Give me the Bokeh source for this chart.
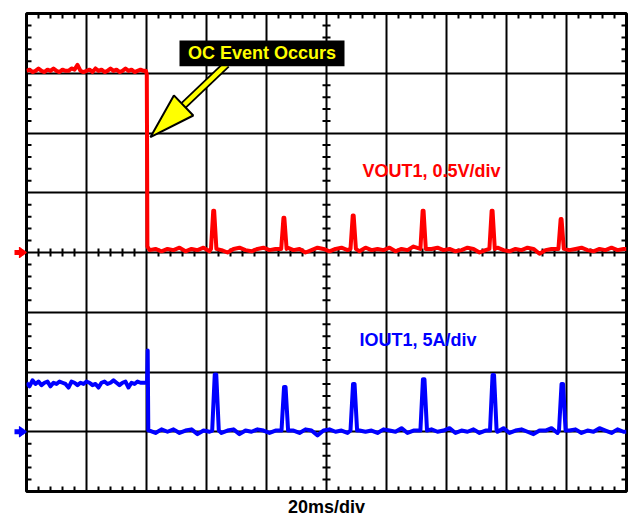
from bokeh.plotting import figure
from bokeh.models import (Range1d, FixedTicker, Grid, BoxAnnotation, Label, LinearAxis, Arrow,
                          NormalHead)
from bokeh.embed import file_html
from bokeh.resources import INLINE
import math

# ---------------- data (read from the scope capture) ----------------
# time base: 20 ms/div, 10 divisions -> 0..200 ms
x_major_ticks = [0, 20, 40, 60, 80, 100, 120, 140, 160, 180, 200]
y_major_ticks = [0, 1, 2, 3, 4, 5, 6, 7, 8]

# VOUT1 (V), 0.5 V/div; before the event, sampled every 1 ms from 0 ms
red_high = [1.52, 1.53, 1.51, 1.52, 1.54, 1.52, 1.51, 1.53, 1.52, 1.54,
            1.52, 1.51, 1.53, 1.52, 1.52, 1.54, 1.53, 1.57, 1.52, 1.51,
            1.52, 1.53, 1.51, 1.54, 1.52, 1.53, 1.51, 1.52, 1.54, 1.52,
            1.53, 1.51, 1.52, 1.54, 1.52, 1.53, 1.51, 1.52, 1.53, 1.52]
red_drop_t = [39.8, 40.1, 40.3]
red_drop_v = [1.52, 1.49, 0.05]
# after the event, sampled every 2 ms from 41 ms
red_low = [0.02, 0.03, 0.01, 0.03, 0.02, 0.04, 0.01, 0.03, 0.02, 0.04,
           0.01, 0.03, 0.02, 0.00, 0.03, 0.04, 0.02, 0.01, 0.03, 0.04,
           0.02, 0.03, 0.01, 0.04, 0.02, 0.03, 0.00, 0.02, 0.04, 0.03,
           0.01, 0.03, 0.04, 0.02, 0.03, 0.01, 0.04, 0.02, 0.03, 0.02,
           0.04, 0.01, 0.03, 0.02, 0.05, 0.02, 0.01, 0.03, 0.04, 0.02,
           0.03, 0.01, 0.02, 0.04, 0.03, 0.00, 0.02, 0.03, 0.04, 0.02,
           0.01, 0.03, 0.02, 0.04, 0.03, -0.01, 0.02, 0.03, 0.01, 0.04,
           0.02, 0.03, 0.04, 0.02, 0.01, 0.03, 0.02, 0.04, 0.02, 0.03]
red_pulse_t = [62.4, 85.8, 108.9, 132.2, 155.2, 178.2]
red_pulse_v = [0.35, 0.29, 0.31, 0.35, 0.35, 0.28]

# IOUT1 (A), 5 A/div
blue_high = [4.1, 3.8, 4.3, 4.0, 4.2, 3.9, 4.1, 4.2, 3.8, 4.1,
             4.0, 4.2, 4.1, 4.0, 3.7, 4.2, 4.1, 3.9, 4.1, 4.0,
             4.2, 4.1, 3.9, 4.0, 3.7, 4.1, 4.2, 4.0, 4.1, 4.3,
             4.1, 3.9, 4.1, 4.2, 3.7, 4.1, 4.0, 4.2, 4.1, 4.1]
blue_spike_t = [40.2, 40.4, 40.6]
blue_spike_i = [4.1, 6.8, 0.1]
blue_low = [0.1, -0.1, 0.2, 0.0, 0.2, -0.1, 0.1, 0.2, -0.2, 0.1,
            0.0, 0.3, -0.1, 0.1, 0.2, -0.2, 0.1, 0.0, 0.2, 0.1,
            -0.1, 0.1, 0.3, 0.0, 0.1, -0.1, 0.2, 0.1, -0.3, 0.1,
            0.2, 0.0, 0.1, -0.1, 0.3, 0.1, 0.0, 0.1, -0.1, 0.2,
            0.1, 0.0, 0.3, -0.1, 0.1, 0.1, -0.4, 0.2, 0.0, 0.1,
            0.3, -0.1, 0.1, 0.0, 0.2, -0.1, 0.1, 0.1, 0.0, 0.3,
            -0.1, 0.1, 0.2, 0.0, -0.2, 0.1, 0.1, 0.3, -0.1, 0.0,
            0.1, 0.2, -0.1, 0.1, 0.0, 0.3, 0.1, -0.1, 0.2, 0.0]
blue_pulse_t = [63.0, 86.1, 109.1, 132.4, 155.6, 178.6]
blue_pulse_i = [4.8, 3.75, 4.0, 4.4, 4.75, 4.0]

labels = ["OC Event Occurs", "VOUT1, 0.5V/div", "IOUT1, 5A/div", "20ms/div"]

# ---------------- build traces ----------------
def build(high, drop_t, drop_v, low, pulse_t, pulse_v, base_level, half_base, half_top):
    pts = [(float(k), v) for k, v in enumerate(high)]
    pts += list(zip(drop_t, drop_v))
    for k, v in enumerate(low):
        t = 41.0 + 2.0 * k
        if all(abs(t - c) > half_base + 0.3 for c in pulse_t):
            pts.append((t, v))
    for c, h in zip(pulse_t, pulse_v):
        pts += [(c - half_base, base_level), (c - half_top, h),
                (c + half_top, h), (c + half_base, base_level)]
    pts.append((200.0, low[-1]))
    pts.sort(key=lambda q: q[0])
    return [q[0] for q in pts], [q[1] for q in pts]

rt, rv = build(red_high, red_drop_t, red_drop_v, red_low, red_pulse_t, red_pulse_v, 0.03, 0.9, 0.15)
bt, bi = build(blue_high, blue_spike_t, blue_spike_i, blue_low, blue_pulse_t, blue_pulse_i, 0.1, 1.1, 0.25)

# ---------------- figure ----------------
p = figure(width=631, height=519, x_range=Range1d(0, 200), y_range=Range1d(0, 8),
           x_axis_location=None, y_axis_location=None, toolbar_location=None,
           output_backend="svg", min_border_left=26, min_border_right=5,
           min_border_top=13, min_border_bottom=26)
p.extra_y_ranges = {"v": Range1d(-2, 2), "i": Range1d(-5, 35)}
p.background_fill_color = "white"
p.border_fill_color = "white"
p.outline_line_color = "black"
p.outline_line_width = 3
for g in p.grid:
    g.visible = False
p.add_layout(Grid(dimension=0, ticker=FixedTicker(ticks=x_major_ticks),
                  grid_line_color="black", grid_line_width=2))
p.add_layout(Grid(dimension=1, ticker=FixedTicker(ticks=y_major_ticks),
                  grid_line_color="black", grid_line_width=2))

# bottom axis only carries the time-base caption
xaxis = LinearAxis(ticker=FixedTicker(ticks=[]), axis_label=labels[3],
                   axis_line_color=None, major_tick_in=0, major_tick_out=0,
                   minor_tick_in=0, minor_tick_out=0, major_label_standoff=0,
                   major_label_text_font_size="0px", axis_label_standoff=5,
                   axis_label_text_font="Liberation Sans", axis_label_text_font_style="bold",
                   axis_label_text_font_size="18px", axis_label_text_color="black")
p.add_layout(xaxis, "below")

MS_PX = 200 / 600.0   # ms per pixel
DV_PX = 8 / 480.0     # div per pixel

# minor ticks (5 per division) on the edges and the centre cross
x0s, y0s, x1s, y1s = [], [], [], []
for k in range(1, 50):
    if k % 5 == 0:
        continue
    x = k * 4.0
    x0s += [x, x, x]; x1s += [x, x, x]
    y0s += [0, 8, 4 - 4 * DV_PX]; y1s += [5 * DV_PX, 8 - 5 * DV_PX, 4 + 4 * DV_PX]
for k in range(1, 40):
    if k % 5 == 0:
        continue
    y = k * 0.2
    y0s += [y, y, y]; y1s += [y, y, y]
    x0s += [0, 200, 100 - 4 * MS_PX]; x1s += [5 * MS_PX, 200 - 5 * MS_PX, 100 + 4 * MS_PX]
p.segment(x0s, y0s, x1s, y1s, line_color="black", line_width=2)

# traces
p.line(rt, rv, y_range_name="v", line_color="#FF0000", line_width=4, line_join="round")
p.line(bt, bi, y_range_name="i", line_color="#0000FF", line_width=4, line_join="round")

# ground markers outside the frame: arrow bodies, each covered by its (invisible) head area
for rng, unit_per_px, col in (("v", 0.5 / 60, "#FF0000"), ("i", 5.0 / 60, "#0000FF")):
    p.add_layout(Arrow(start=None,
                       end=NormalHead(size=10, fill_alpha=0, line_alpha=0),
                       x_start=-12 * MS_PX, y_start=0, x_end=-5 * MS_PX, y_end=0,
                       y_range_name=rng, line_color=col, line_width=5))
    for k in range(15):
        dxp = -7 + 0.5 * k      # pixels left of the frame edge
        h = 5.0 * (-dxp) / 7.0 + 0.4
        p.add_layout(Arrow(start=None,
                           end=NormalHead(size=2 * h + 4, fill_alpha=0, line_alpha=0),
                           x_start=dxp * MS_PX, y_start=-h * unit_per_px,
                           x_end=dxp * MS_PX, y_end=h * unit_per_px,
                           y_range_name=rng, line_color=col, line_width=1.2))

# callout arrow (computed in pixel space)
tip = (41.3, 5.93)
tail = (66.7, 7.15)
tpx, tpy = tip[0] / MS_PX, tip[1] / DV_PX
lpx, lpy = tail[0] / MS_PX, tail[1] / DV_PX
dx, dy = lpx - tpx, lpy - tpy
L = math.hypot(dx, dy)
ux, uy = dx / L, dy / L
nx, ny = -uy, ux
head_len, head_half = 46, 14
bx, by = tpx + head_len * ux, tpy + head_len * uy
head_x = [tpx * MS_PX, (bx + head_half * nx) * MS_PX, (bx - head_half * nx) * MS_PX]
head_y = [tpy * DV_PX, (by + head_half * ny) * DV_PX, (by - head_half * ny) * DV_PX]
sx0, sy0 = tail
sx1, sy1 = (bx - 4 * ux) * MS_PX, (by - 4 * uy) * DV_PX
p.segment([sx0], [sy0], [sx1], [sy1], line_color="black", line_width=8)
p.segment([sx0], [sy0], [sx1], [sy1], line_color="#FFFF00", line_width=4.5)
p.patch(head_x, head_y, fill_color="#FFFF00", line_color="black", line_width=2)

p.add_layout(BoxAnnotation(left=51, right=106, bottom=7.117, top=7.55,
                           fill_color="black", fill_alpha=1, line_color=None))

common = dict(text_font="Liberation Sans", text_font_style="bold", text_font_size="18px")
p.add_layout(Label(x=78.5, y=7.333, text=labels[0], text_color="#FFFF00",
                   text_align="center", text_baseline="middle", **common))
p.add_layout(Label(x=112, y=5.367, text=labels[1], text_color="#FF0000",
                   text_align="left", text_baseline="middle", **common))
p.add_layout(Label(x=111, y=2.533, text=labels[2], text_color="#0000FF",
                   text_align="left", text_baseline="middle", **common))

open("out.html", "w").write(file_html(p, INLINE))
